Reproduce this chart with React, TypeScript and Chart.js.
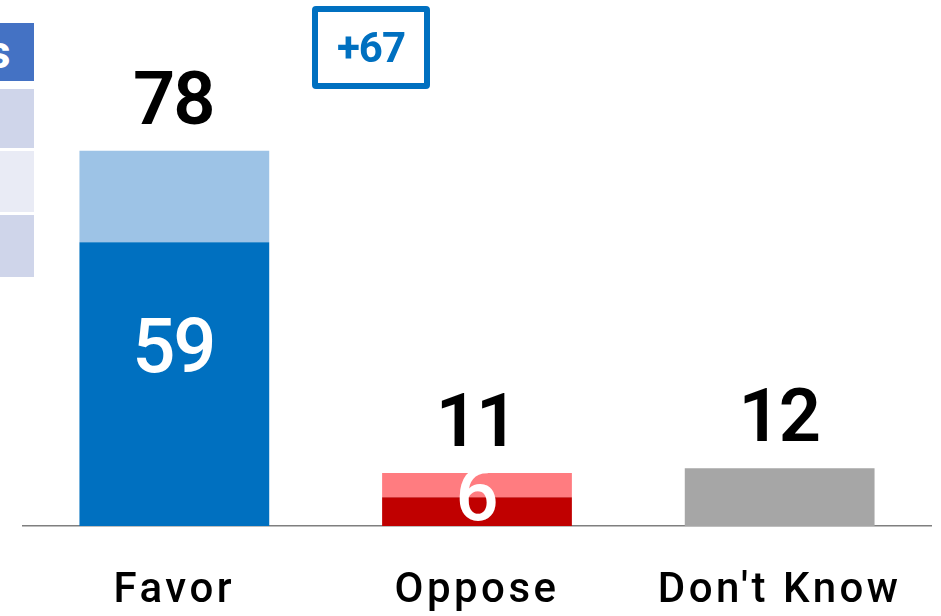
import React, { useEffect, useRef } from "react";
import { Chart, registerables } from "chart.js";

Chart.register(...registerables);

const categories = ["Favor", "Oppose", "Don't Know"];
const coreValues = [59, 6, 12];
const leanValues = [19, 5, 0];
const coreColors = ["#0070C0", "#C00000", "#A6A6A6"];
const leanColors = ["#9DC3E6", "#FF7C80", "#A6A6A6"];
const innerLabelShown = [true, true, false];
const innerLabelBaseline = [32, 1.25, 0];
const netLabel = "+67";
const tableHeaderText = "s";

const FONT = "Roboto, 'DejaVu Sans', sans-serif";

const labelPlugin = {
  id: "valueLabels",
  afterDatasetsDraw(chart: any) {
    const ctx = chart.ctx as CanvasRenderingContext2D;
    const meta = chart.getDatasetMeta(0);
    const y = chart.scales.y;
    ctx.save();
    ctx.textAlign = "center";
    ctx.textBaseline = "alphabetic";
    (ctx as any).letterSpacing = "-2px";
    categories.forEach((_, i) => {
      const total = coreValues[i] + leanValues[i];
      const x = meta.data[i].x - 1;
      ctx.font = `600 74px ${FONT}`;
      ctx.fillStyle = "#000000";
      ctx.fillText(String(total), x, y.getPixelForValue(total) - 27);
      if (innerLabelShown[i]) {
        ctx.fillStyle = "#FFFFFF";
        ctx.font = `500 76px ${FONT}`;
        ctx.fillText(String(coreValues[i]), x, y.getPixelForValue(innerLabelBaseline[i]));
      }
    });
    ctx.restore();
  },
};

const spacingPlugin = {
  id: "tickSpacing",
  beforeDraw(chart: any) {
    (chart.ctx as any).letterSpacing = "3.5px";
  },
  afterDraw(chart: any) {
    (chart.ctx as any).letterSpacing = "0px";
  },
};

export default function App() {
  const ref = useRef<HTMLCanvasElement | null>(null);
  useEffect(() => {
    if (!ref.current) return;
    const chart = new Chart(ref.current, {
      type: "bar",
      data: {
        labels: categories,
        datasets: [
          {
            label: "Core",
            data: coreValues,
            backgroundColor: coreColors,
            borderWidth: 0,
            barPercentage: 0.627,
            categoryPercentage: 1,
          },
          {
            label: "Lean",
            data: leanValues,
            backgroundColor: leanColors,
            borderWidth: 0,
            barPercentage: 0.627,
            categoryPercentage: 1,
          },
        ],
      },
      options: {
        animation: false,
        responsive: false,
        maintainAspectRatio: false,
        layout: { padding: { left: 23, right: 10, top: 45, bottom: 0 } },
        plugins: {
          legend: { display: false },
          tooltip: { enabled: false },
        },
        scales: {
          x: {
            stacked: true,
            grid: { display: false, drawTicks: false },
            border: { display: true, color: "#7F7F7F", width: 1.5 },
            ticks: {
              color: "#000000",
              font: { family: FONT, size: 42, weight: "500" },
              padding: 40,
              maxRotation: 0,
              autoSkip: false,
            },
            afterFit: (scale: any) => {
              scale.height = 90;
            },
          },
          y: {
            stacked: true,
            display: false,
            min: 0,
            max: 100,
          },
        },
      },
      plugins: [spacingPlugin, labelPlugin],
    });
    return () => chart.destroy();
  }, []);

  const cell = (top: number, height: number, bg: string): React.CSSProperties => ({
    position: "absolute",
    left: 0,
    top,
    width: 34,
    height,
    background: bg,
    overflow: "hidden",
  });

  return (
    <div style={{ position: "fixed", left: 0, top: 0, width: 941, height: 616, background: "#FFFFFF" }}>
      <canvas ref={ref} width={941} height={616} style={{ position: "absolute", left: 0, top: 0, width: 941, height: 616 }} />
      <div style={cell(23, 58, "#4472C4")}>
        <span
          style={{
            position: "absolute",
            left: -13,
            top: 2,
            color: "#FFFFFF",
            fontFamily: FONT,
            fontWeight: 700,
            fontSize: 46,
            lineHeight: "54px",
          }}
        >
          {tableHeaderText}
        </span>
      </div>
      <div style={cell(89, 59, "#CFD5EA")} />
      <div style={cell(151, 61, "#E9EBF5")} />
      <div style={cell(215, 62, "#CFD5EA")} />
      <div
        style={{
          position: "absolute",
          left: 312,
          top: 6,
          width: 118,
          height: 83,
          boxSizing: "border-box",
          border: "6px solid #0070C0",
          borderRadius: 4,
          display: "flex",
          alignItems: "center",
          justifyContent: "center",
          color: "#0070C0",
          fontFamily: FONT,
          fontWeight: 700,
          fontSize: 42,
          letterSpacing: "-1px",
        }}
      >
        {netLabel}
      </div>
    </div>
  );
}
